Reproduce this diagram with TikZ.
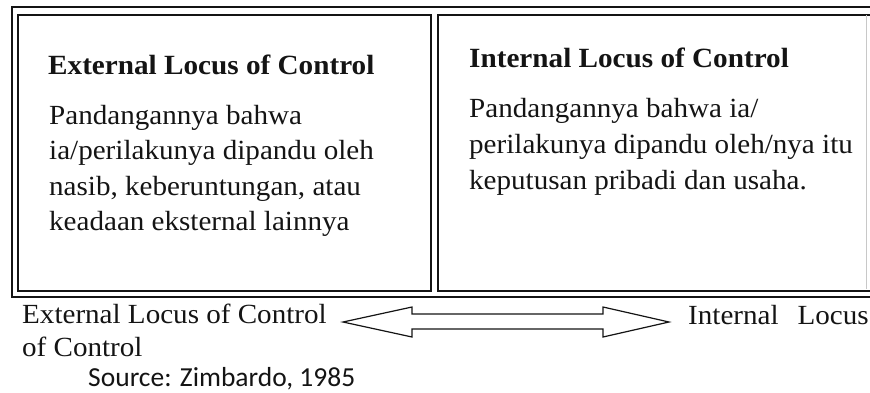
\documentclass[tikz,border=0pt]{standalone}
\usepackage{fontspec}
\setmainfont{Liberation Serif}[FakeStretch=1.05]
\newfontfamily\sourcefont{Carlito}
\usepackage{tikz}
\usetikzlibrary{positioning, calc}
\definecolor{inkblack}{RGB}{20, 20, 20}
\definecolor{fadegray}{RGB}{200, 200, 200}

\begin{document}
\begin{tikzpicture}[
    x=1pt, y=-1pt,
    frameline/.style={draw=inkblack, line width=1.6pt},
    panel/.style={frameline, anchor=north west, inner sep=0pt},
    head/.style={anchor=base west, inner sep=0pt, font=\fontsize{27.8}{35}\selectfont\bfseries, text=inkblack},
    body/.style={anchor=base west, inner sep=0pt, font=\fontsize{27.7}{35}\selectfont, text=inkblack},
    source/.style={anchor=base west, inner sep=0pt, font=\sourcefont\fontsize{27.5}{33}\selectfont, text=inkblack},
    blockarrow/.style={draw=inkblack, line width=1.2pt, fill=white, line join=miter}
]
    \useasboundingbox (0,0) rectangle (870,392);
    \clip (0,0) rectangle (870,392);

    % frame and the two panels
    \draw[frameline] (12,7) rectangle (900,297);
    \node[panel, minimum width=413pt, minimum height=276pt] (extpanel) at (17,14) {};
    \node[panel, minimum width=460pt, minimum height=276pt] (intpanel) at (437,14) {};
    \draw[fadegray, line width=0.8pt] (866,15) -- (866,289);

    % external panel
    \node[head] (exthead) at (48,74) {External Locus of Control};
    \node[body] (extline1) at (49,124) {Pandangannya bahwa};
    \node[body] (extline2) at (49,159) {ia/perilakunya dipandu oleh};
    \node[body] (extline3) at (49,195) {nasib, keberuntungan, atau};
    \node[body] (extline4) at (49,230) {keadaan eksternal lainnya};

    % internal panel
    \node[head] (inthead) at (469,67) {Internal Locus of Control};
    \node[body] (intline1) at (469,117) {Pandangannya bahwa ia/};
    \node[body] (intline2) at (469,153) {perilakunya dipandu oleh/nya itu};
    \node[body] (intline3) at (469,189) {keputusan pribadi dan usaha.};

    % scale below the frame
    \node[body] (extlabel) at (22,323) {External Locus of Control};
    \node[body] (extlabel2) at (22,356) {of Control};
    \node[body] (intlabel) at (688,324) {Internal\hspace{19pt}Locus};

    \coordinate (lefttip) at (343,322);
    \coordinate (righttip) at (669,322);
    \draw[blockarrow] (lefttip) -- ($(lefttip)+(69,-15)$) -- ($(lefttip)+(69,-8)$)
        -- ($(righttip)+(-66,-8)$) -- ($(righttip)+(-66,-15)$) -- (righttip)
        -- ($(righttip)+(-66,15)$) -- ($(righttip)+(-66,7)$)
        -- ($(lefttip)+(69,7)$) -- ($(lefttip)+(69,15)$) -- cycle;

    \node[source] (source) at (88,386) {Source: Zimbardo, 1985};
\end{tikzpicture}
\end{document}
